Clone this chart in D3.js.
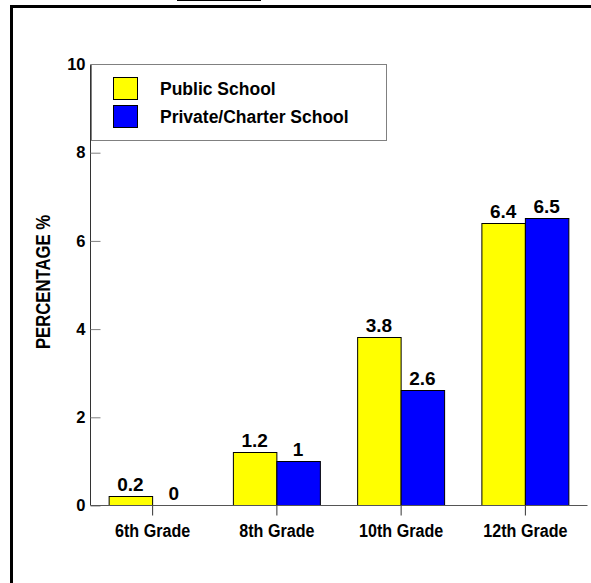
<!DOCTYPE html>
<html>
<head>
<meta charset="utf-8">
<script src="https://cdn.jsdelivr.net/npm/d3@7"></script>
<style>
  body { margin: 0; background: #fff; }
  svg { display: block; font-family: "Liberation Sans", Arial, sans-serif; font-weight: bold; }
</style>
</head>
<body>
<svg width="591" height="583"></svg>
<script>
const grades = ['6th Grade', '8th Grade', '10th Grade', '12th Grade']
const seriesNames = ['Public School', 'Private/Charter School']
const publicValues = [0.2, 1.2, 3.8, 6.4]
const privateValues = [0, 1, 2.6, 6.5]
const yTicks = [0, 2, 4, 6, 8, 10]
const colors = ['#ffff00', '#0000ff']

const svg = d3.select('svg')
const plot = { left: 90, right: 587, top: 64, bottom: 505 }

// squeeze text a little horizontally, the original font is narrower
function squeeze(sel, k) {
  sel.each(function () {
    const len = this.getComputedTextLength()
    d3.select(this).attr('textLength', len * k).attr('lengthAdjust', 'spacingAndGlyphs')
  })
}

// outer frame (only top and left edges are visible)
svg.append('rect')
  .attr('x', 11.5).attr('y', 6.5)
  .attr('width', 700).attr('height', 700)
  .attr('fill', 'none').attr('stroke', '#000').attr('stroke-width', 3)
svg.append('line')
  .attr('x1', 177).attr('x2', 261).attr('y1', 0.5).attr('y2', 0.5)
  .attr('stroke', '#000')

const x = d3.scaleBand().domain(grades).range([plot.left, plot.right]).paddingInner(0.3).paddingOuter(0.15)
const xOuter = d3.scaleBand().domain(grades).range([plot.left, plot.right])
const xSub = d3.scaleBand().domain(seriesNames).range([0, x.bandwidth()])
const y = d3.scaleLinear().domain([0, 10]).range([plot.bottom, plot.top])

const rows = grades.map((g, i) => ({ grade: g, values: [publicValues[i], privateValues[i]] }))

// bars
const groups = svg.append('g').selectAll('g').data(rows).join('g')
  .attr('transform', d => `translate(${xOuter(d.grade) + xOuter.bandwidth() / 2 - x.bandwidth() / 2},0)`)
groups.selectAll('rect').data(d => d.values.map((v, j) => ({ v, j })))
  .join('rect')
  .attr('x', d => xSub(seriesNames[d.j]) + 0.5)
  .attr('y', d => Math.round(y(d.v)) + 0.5)
  .attr('width', xSub.bandwidth())
  .attr('height', d => Math.round(y(0)) - Math.round(y(d.v)))
  .attr('fill', d => colors[d.j])
  .attr('stroke', '#000').attr('stroke-width', 1)
groups.selectAll('text').data(d => d.values.map((v, j) => ({ v, j })))
  .join('text')
  .attr('x', d => xSub(seriesNames[d.j]) + xSub.bandwidth() / 2)
  .attr('y', d => y(d.v) - 5)
  .attr('text-anchor', 'middle')
  .attr('font-size', 19)
  .text(d => d.v)

// y axis
const yAxis = svg.append('g')
  .attr('transform', `translate(${plot.left + 0.5},0.5)`)
  .call(d3.axisLeft(y).tickValues(yTicks).tickSize(-10).tickPadding(5))
yAxis.select('.domain').attr('stroke', '#333').attr('d', `M0,${plot.top}V${plot.bottom}`)
yAxis.selectAll('.tick line').attr('stroke', '#808080')
yAxis.selectAll('.tick text').attr('fill', '#000').attr('font-size', 16.5).attr('font-family', null).attr('font-weight', 'bold')

// x axis
const xAxis = svg.append('g')
  .attr('transform', `translate(0.5,${plot.bottom + 0.5})`)
  .call(d3.axisBottom(xOuter).tickSize(10).tickPadding(9))
xAxis.select('.domain').attr('stroke', '#555').attr('d', `M${plot.left},0H${plot.right}`)
xAxis.selectAll('.tick line').attr('stroke', '#333')
xAxis.selectAll('.tick text').attr('fill', '#000').attr('font-size', 17.5).attr('font-family', null).attr('font-weight', 'bold')
  .call(squeeze, 0.92)

// y title
svg.append('text')
  .attr('transform', `translate(50,282) rotate(-90)`)
  .attr('text-anchor', 'middle')
  .attr('font-size', 19.5)
  .attr('textLength', 134).attr('lengthAdjust', 'spacingAndGlyphs')
  .text('PERCENTAGE %')

// legend
svg.append('rect')
  .attr('x', 91.5).attr('y', 64.5).attr('width', 295).attr('height', 76)
  .attr('fill', '#fff').attr('stroke', '#808080')
const legend = svg.append('g')
seriesNames.forEach((name, i) => {
  legend.append('rect')
    .attr('x', 113.5).attr('y', 77.5 + i * 28).attr('width', 24).attr('height', 22)
    .attr('fill', colors[i]).attr('stroke', '#000')
  legend.append('text')
    .attr('x', 160).attr('y', 95 + i * 28)
    .attr('font-size', 17.5)
    .text(name)
})
</script>
</body>
</html>
